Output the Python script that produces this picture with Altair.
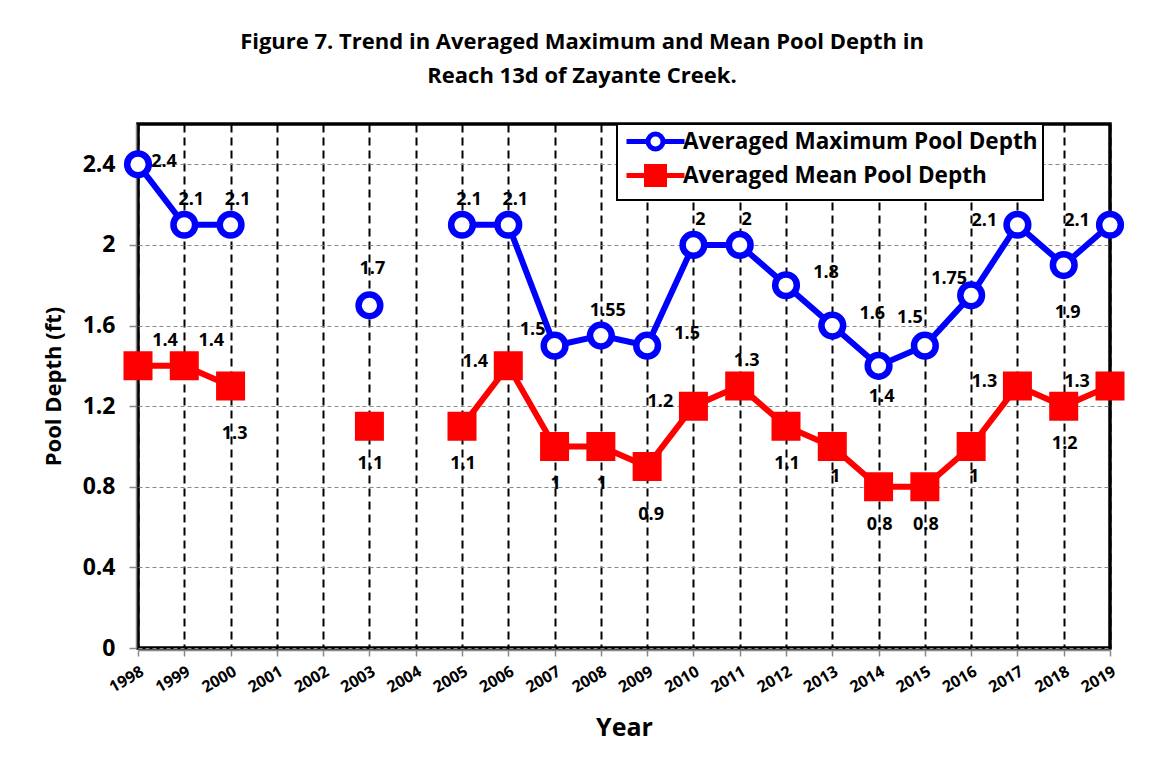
import altair as alt
import pandas as pd

# ---------------- data ----------------
years = [str(y) for y in range(1998, 2020)]
max_depth = [2.4, 2.1, 2.1, None, None, 1.7, None, 2.1, 2.1, 1.5, 1.55,
             1.5, 2.0, 2.0, 1.8, 1.6, 1.4, 1.5, 1.75, 2.1, 1.9, 2.1]
mean_depth = [1.4, 1.4, 1.3, None, None, 1.1, None, 1.1, 1.4, 1.0, 1.0,
              0.9, 1.2, 1.3, 1.1, 1.0, 0.8, 0.8, 1.0, 1.3, 1.2, 1.3]
y_ticks = [0, 0.4, 0.8, 1.2, 1.6, 2.0, 2.4]

MAXN = "Averaged Maximum Pool Depth"
MEANN = "Averaged Mean Pool Depth"
series_names = [MAXN, MEANN]

# ---------------- label placement (style, not data) ----------------
max_label_pos = ["r", "a", "a", "", "", "ah", "", "a", "a", "lu", "a",
                 "ru", "a", "a", "ru", "ru", "bs", "al", "lu", "l", "bf", "l"]
mean_label_pos = ["ar", "ar", "bf", "", "", "b", "", "b", "l", "b", "b",
                  "bf", "l", "a", "b", "bs", "b", "b", "bs", "l", "b", "l"]
label_offsets = {
    "a": (7, -25), "ah": (3, -36), "ar": (27, -25), "al": (-15, -28),
    "r": (26, -2), "ru": (40, -12), "lu": (-22, -16), "l": (-33, -4),
    "b": (1, 38), "bs": (3, 31), "bf": (4, 48),
}

BLUE = "#0000FF"
RED = "#FF0000"
FONT = "Open Sans"

df = pd.DataFrame({
    "year": years + years,
    "series": [MAXN] * len(years) + [MEANN] * len(years),
    "value": max_depth + mean_depth,
    "pos": max_label_pos + mean_label_pos,
})

x_enc = alt.X(
    "year:O",
    scale=alt.Scale(type="point", padding=0, domain=years),
    title="Year",
    axis=alt.Axis(
        labelAngle=-30, labelAlign="right", labelBaseline="top",
        labelFont=FONT, labelFontSize=16, labelFontWeight="bold", labelColor="black",
        labelPadding=7, tickColor="#888888", tickSize=6, tickWidth=1.5,
        domain=True, domainColor="#888888", domainWidth=1.5, offset=2,
        grid=True, gridColor="black", gridDash=[8, 5], gridWidth=2,
        titleFont=FONT, titleFontSize=25, titleFontWeight="bold", titleColor="black",
        titlePadding=20,
    ),
)
y_enc = alt.Y(
    "value:Q",
    scale=alt.Scale(domain=[0, 2.6], nice=False, zero=True),
    title="Pool Depth (ft)",
    axis=alt.Axis(
        values=y_ticks, format=".1~f",
        labelFont=FONT, labelFontSize=23, labelFontWeight="bold", labelColor="black",
        labelPadding=14, tickColor="#888888", tickSize=7, tickWidth=1.5,
        domain=True, domainColor="#888888", domainWidth=1.5, offset=2,
        grid=True, gridColor="#888888", gridDash=[4, 3], gridWidth=1,
        titleFont=FONT, titleFontSize=22, titleFontWeight="bold", titleColor="black",
        titlePadding=17,
    ),
)

base = alt.Chart(df).encode(x=x_enc, y=y_enc)

max_line = base.transform_filter(alt.datum.series == MAXN).mark_line(
    color=BLUE, strokeWidth=6, invalid="break-paths-show-domains")
mean_line = base.transform_filter(alt.datum.series == MEANN).mark_line(
    color=RED, strokeWidth=6, invalid="break-paths-show-domains")

max_pts = base.transform_filter(alt.datum.series == MAXN).transform_filter(
    "isValid(datum.value)").mark_point(
    shape="circle", filled=True, fill="white", stroke=BLUE, strokeWidth=6.5,
    size=470, opacity=1)
mean_pts = base.transform_filter(alt.datum.series == MEANN).transform_filter(
    "isValid(datum.value)").mark_point(
    shape="square", filled=True, fill=RED, stroke=RED, strokeWidth=3,
    size=676, opacity=1)

label_layers = []
for code, (ddx, ddy) in label_offsets.items():
    label_layers.append(
        base.transform_filter(alt.datum.pos == code).mark_text(
            dx=ddx, dy=ddy, align="center", baseline="middle",
            font=FONT, fontSize=18, fontWeight="bold", color="black",
        ).encode(text=alt.Text("value:Q", format=".2~f"))
    )

# legend: symbols are a line with the series marker, as in the reference
circ_path = ("M-2.9,0H-0.75M0.75,0H2.9"
             "M0.75,0A0.75,0.75 0 1,1 -0.75,0A0.75,0.75 0 1,1 0.75,0Z")
sq_path = "M-2.9,0H-0.9M0.9,0H2.9M-0.9,-0.9H0.9V0.9H-0.9Z"

leg = alt.Legend(
    title=None, orient="none", legendX=479, legendY=0, direction="vertical",
    fillColor="white", strokeColor="black", padding=5,
    labelFont=FONT, labelFontSize=22.5, labelFontWeight="bold", labelColor="black",
    labelLimit=600, symbolSize=400, symbolStrokeWidth=5,
    symbolOffset=21, labelOffset=15, rowPadding=-3,
)
legend_layer = alt.Chart(df).transform_filter("datum.value > 99").mark_point(
    filled=True, strokeWidth=5, size=400, opacity=1).encode(
    shape=alt.Shape("series:N", scale=alt.Scale(domain=series_names,
                                                range=[circ_path, sq_path]), legend=leg),
    fill=alt.Fill("series:N", scale=alt.Scale(domain=series_names,
                                              range=["white", RED]), legend=leg),
    stroke=alt.Stroke("series:N", scale=alt.Scale(domain=series_names,
                                                  range=[BLUE, RED]), legend=leg),
)

chart = alt.layer(
    max_line, mean_line, max_pts, mean_pts, *label_layers, legend_layer
).properties(
    width=972, height=524,
    padding={"left": 130, "top": 116, "right": 30, "bottom": 100},
    autosize=alt.AutoSizeParams(type="none"),
    title=alt.TitleParams(
        text=["Figure 7. Trend in Averaged Maximum and Mean Pool Depth in",
              "Reach 13d of Zayante Creek."],
        font=FONT, fontSize=22, fontWeight="bold", color="black",
        anchor="middle", dx=-42, offset=35, lineHeight=34,
    ),
).configure(font=FONT).configure_view(
    fill="#ECE9DF", stroke="black", strokeWidth=3.5
).configure_legend(strokeWidth=2)

chart.save("out.html", embed_options={"renderer": "svg", "actions": False})
